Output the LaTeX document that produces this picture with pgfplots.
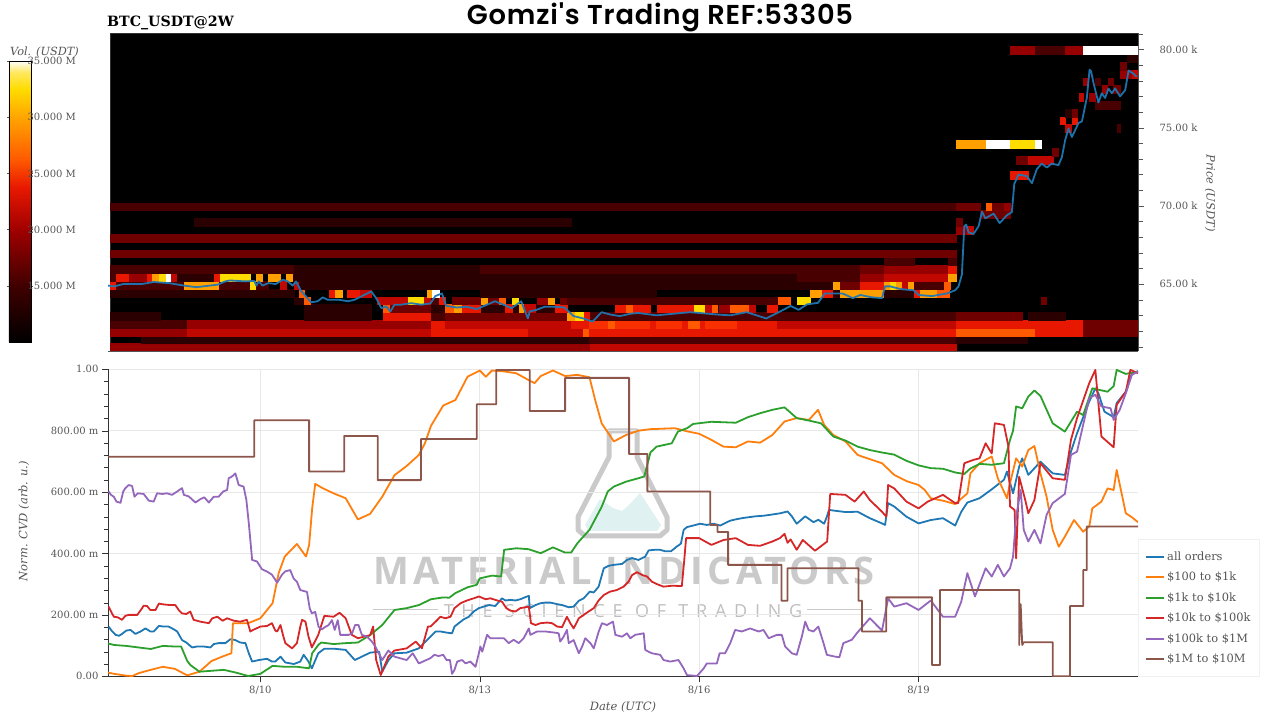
\documentclass[border=0pt]{standalone}
\usepackage{fontspec}
\usepackage{pgfplots}
\pgfplotsset{compat=1.18}
\setmainfont{DejaVu Serif}
\newfontfamily\titlefont{Poppins}[UprightFont=* SemiBold,LetterSpace=3]
\newfontfamily\wmA{Open Sans}[UprightFont=* Bold,LetterSpace=11.5]
\newfontfamily\wmB{Open Sans}[LetterSpace=43]
\definecolor{h1}{HTML}{2A0000}\definecolor{h2}{HTML}{480000}\definecolor{h3}{HTML}{6E0000}
\definecolor{h4}{HTML}{960000}\definecolor{h5}{HTML}{C00800}\definecolor{h6}{HTML}{E81800}
\definecolor{h7}{HTML}{FF5A00}\definecolor{h8}{HTML}{FFA000}\definecolor{h9}{HTML}{FFDC00}
\definecolor{hr}{HTML}{F83000}
\colorlet{hw}{white}
\definecolor{cA}{HTML}{1F77B4}\definecolor{cB}{HTML}{FF7F0E}\definecolor{cC}{HTML}{2CA02C}
\definecolor{cD}{HTML}{D62728}\definecolor{cE}{HTML}{9467BD}\definecolor{cF}{HTML}{8C564B}
\definecolor{txt}{HTML}{555555}
\definecolor{wm}{HTML}{CACACA}
\definecolor{wmd}{HTML}{BEBEBE}
\definecolor{wmt}{HTML}{DFF1F0}
\definecolor{b1}{HTML}{400000}\definecolor{b2}{HTML}{A00000}\definecolor{b3}{HTML}{FFA500}\definecolor{b4}{HTML}{FFE860}
\pgfdeclareverticalshading{hotbar}{100bp}{color(0bp)=(black);color(25bp)=(black);color(35bp)=(b1);color(45bp)=(b2);color(52.5bp)=(h6);color(57.5bp)=(h7);color(65bp)=(b3);color(70bp)=(h9);color(73bp)=(b4);color(75bp)=(white);color(100bp)=(white)}
% heat cell: from hour, to hour, price bin (61.2 + 0.5 r USDk), colour
\newcommand{\hc}[4]{\pgfmathsetmacro\lo{61.2+0.5*#3}\pgfmathsetmacro\hi{61.7+0.5*#3}%
\edef\tmp{\noexpand\addplot[draw=#4,line width=0.1pt,fill=#4,forget plot] coordinates {(#1,\lo)(#2,\lo)(#2,\hi)(#1,\hi)} -- cycle;}\tmp}
\pgfplotsset{cvd/.style={#1,line width=1.8pt,line join=round}}
\begin{document}
\begin{tikzpicture}[font=\fontsize{10}{12}\selectfont]
\useasboundingbox (0,0) rectangle (1280pt,720pt);
% ---- watermark, below the curves
\begin{scope}[x=1pt,y=-1pt,shift={(0pt,720pt)}]
\fill[wmt] (585,525)--(600,499)--(613,508)--(622,511)--(630,504)--(640,493)--(661,525)--(657,531)--(588,531)--cycle;
\draw[wm,line width=5pt,line join=round] (609,431)--(637,431)--(637,457)--(667,517)--(667,530)--(660,536)--(585,536)--(578,530)--(578,517)--(609,457)--cycle;
\node[anchor=center,text=wm,inner sep=0pt] at (624,571) {\fontsize{38}{40}\wmA MATERIAL INDICATORS};
\node[anchor=center,text=wmd,inner sep=0pt] at (623,611) {\fontsize{18}{20}\wmB THE SCIENCE OF TRADING};
\draw[wm,line width=1pt] (373,610)--(438,610) (807,610)--(872,610);
\end{scope}
% ---- heat map
\begin{axis}[at={(108pt,369pt)},anchor=south west,scale only axis,width=1030pt,height=318pt,
 xmin=-2,xmax=336,ymin=60.72,ymax=81.05,
 axis x line*=bottom,axis y line*=right,xtick=\empty,
 axis line style={draw=txt,-},
 ytick={65,70,75,80},yticklabels={65.00 k,70.00 k,75.00 k,80.00 k},
 minor ytick={61,62,63,64,66,67,68,69,71,72,73,74,76,77,78,79,81},
 tick style={draw=txt},major tick length=6pt,minor tick length=5pt,
 tick align=outside,
 yticklabel style={text=txt,font=\fontsize{10}{12}\selectfont,anchor=west,xshift=12pt}]
\addplot[draw=black!80,fill=black,forget plot] coordinates {(-1.2,60.72)(336,60.72)(336,81.05)(-1.2,81.05)} -- cycle;
% rows
\hc{-1.2}{156.3}{-1}{h4}\hc{156.3}{276.2}{-1}{h5}
\hc{8.7}{156}{0}{h1}\hc{156}{276.2}{0}{h2}\hc{276.2}{299.5}{0}{h1}
\hc{-1.2}{24}{1}{h4}\hc{24}{104}{1}{h5}\hc{104}{136}{1}{h6}\hc{136}{154}{1}{h5}\hc{154}{156}{1}{h7}\hc{156}{276.2}{1}{h6}\hc{276.2}{302.3}{1}{h7}\hc{302.3}{317.9}{1}{h6}\hc{317.9}{336}{1}{h3}
\hc{-1.2}{24}{2}{h2}\hc{24}{104}{2}{h4}\hc{104}{108.7}{2}{h6}\hc{108.7}{150}{2}{h5}\hc{150}{156}{2}{h6}\hc{156}{162}{2}{hr}\hc{162}{164.5}{2}{h7}\hc{164.5}{176}{2}{hr}\hc{176}{178}{2}{h6}\hc{178}{186.3}{2}{hr}\hc{186.3}{188.5}{2}{h6}\hc{188.5}{192.3}{2}{h7}\hc{192.3}{194}{2}{h6}\hc{194}{204.4}{2}{hr}\hc{204.4}{217.5}{2}{h6}\hc{217.5}{276.2}{2}{h5}\hc{276.2}{317.9}{2}{h6}\hc{317.9}{336}{2}{h3}
\hc{-1.2}{15}{3}{h1}\hc{62.2}{84.4}{3}{h1}\hc{88.4}{104}{3}{h6}\hc{104}{108.7}{3}{h2}\hc{108.7}{148.5}{3}{h3}\hc{148.5}{151.4}{3}{h8}\hc{151.4}{154.3}{3}{h9}\hc{154.3}{156.3}{3}{h6}\hc{156.3}{276.2}{3}{h2}\hc{276.2}{298}{3}{h3}\hc{300}{312}{3}{h1}
\hc{62.2}{84.4}{4}{h1}\hc{88.4}{90.6}{4}{h7}\hc{90.6}{104}{4}{h3}\hc{104}{148}{4}{h1}\hc{108.7}{111.5}{4}{h7}\hc{111.5}{114.2}{4}{h8}\hc{114.2}{120.2}{4}{h6}\hc{128.4}{130.6}{4}{h6}\hc{132.8}{134.4}{4}{h8}\hc{134.4}{138.3}{4}{h5}\hc{144.8}{148.6}{4}{h6}\hc{164.5}{176}{4}{h6}\hc{168}{170}{4}{h7}\hc{178.1}{190.2}{4}{h6}\hc{190.2}{194}{4}{h9}\hc{194}{196.2}{4}{h5}\hc{196.2}{197.8}{4}{h7}\hc{198.4}{202.2}{4}{h4}\hc{202.2}{208.2}{4}{h7}\hc{208.2}{210.4}{4}{h5}\hc{214.2}{217.5}{4}{h6}
\hc{58.9}{62.2}{5}{h1}\hc{62.2}{64.4}{5}{h7}\hc{86.3}{96.6}{5}{h5}\hc{96.6}{101.6}{5}{h9}\hc{101.6}{104}{5}{h5}\hc{104}{106.6}{5}{h2}\hc{106.6}{108.7}{5}{h6}\hc{111}{120}{5}{h3}\hc{120.4}{122.6}{5}{h8}\hc{122.6}{126.2}{5}{h3}\hc{126.2}{128.4}{5}{h7}\hc{130.6}{132.5}{5}{h9}\hc{138.8}{142.1}{5}{h4}\hc{142.3}{144.3}{5}{h8}\hc{146.4}{148.6}{5}{h3}\hc{148.6}{218}{5}{h2}\hc{218}{221.9}{5}{h7}\hc{224}{228.4}{5}{h9}\hc{304.2}{305.9}{5}{h3}
\hc{-1.2}{58.9}{6}{h1}\hc{60.6}{62.2}{6}{h7}\hc{70.4}{72.6}{6}{h6}\hc{72.6}{74.8}{6}{h8}\hc{76.4}{80.8}{6}{h6}\hc{80.8}{84.4}{6}{h5}\hc{102.6}{104.4}{6}{h8}\hc{104.4}{106.6}{6}{hw}\hc{120}{178}{6}{h1}\hc{228.4}{232.2}{6}{h8}\hc{232.2}{236}{6}{h6}\hc{236}{238.3}{6}{h1}\hc{238.3}{244.9}{6}{h8}\hc{244.9}{252.5}{6}{h8}\hc{252.5}{262.4}{6}{h1}\hc{262.4}{264.4}{6}{h6}\hc{264.4}{270}{6}{h8}\hc{270}{274}{6}{h7}
\hc{-1.2}{0.7}{7}{h6}\hc{0.7}{22.9}{7}{h2}\hc{22.9}{34.3}{7}{h8}\hc{34.3}{44.7}{7}{h2}\hc{44.7}{46.7}{7}{h9}\hc{46.7}{50.4}{7}{h2}\hc{54.6}{56.5}{7}{h5}\hc{58.9}{60.6}{7}{h5}\hc{60.6}{236}{7}{h1}\hc{236}{238.3}{7}{h8}\hc{238.3}{244.9}{7}{h3}\hc{244.9}{252.5}{7}{h6}\hc{252.5}{254.5}{7}{h8}\hc{254.5}{256.5}{7}{h9}\hc{256.5}{258.5}{7}{h8}\hc{258.5}{260.4}{7}{h5}\hc{260.4}{262.4}{7}{h8}\hc{262.4}{272.2}{7}{h2}\hc{272.2}{274.4}{7}{h7}
\hc{-1.2}{0.7}{8}{h2}\hc{0.7}{4.8}{8}{h6}\hc{4.8}{10.8}{8}{h4}\hc{10.8}{12.6}{8}{h6}\hc{12.6}{14.8}{8}{h8}\hc{14.8}{16.9}{8}{h9}\hc{16.9}{18.7}{8}{hw}\hc{18.7}{20.7}{8}{h5}\hc{20.7}{32.7}{8}{h1}\hc{32.7}{34.9}{8}{h6}\hc{34.9}{44.7}{8}{h9}\hc{46.7}{48.7}{8}{h8}\hc{50.4}{54.6}{8}{h8}\hc{56.5}{58.6}{8}{h8}\hc{58.6}{224}{8}{h1}\hc{224}{244.9}{8}{h2}\hc{244.9}{252.5}{8}{h4}\hc{252.5}{273.8}{8}{h5}\hc{273.8}{276.2}{8}{h8}
\hc{-1.2}{58.9}{9}{h2}\hc{58.9}{120}{9}{h1}\hc{120}{244.9}{9}{h2}\hc{244.9}{252.5}{9}{h3}\hc{252.5}{273.8}{9}{h4}\hc{273.8}{276.2}{9}{h6}
\hc{252.5}{262.4}{10}{h2}\hc{273.8}{276.2}{10}{h2}
\hc{-1.2}{276.2}{11}{h3}
\hc{-1.2}{276.2}{13}{h3}
\hc{276.2}{279.8}{14}{h4}\hc{279.8}{282}{14}{h5}
\hc{26.3}{150}{15}{h1}\hc{276.2}{278.2}{15}{h3}
\hc{284.2}{294.1}{16}{h3}
\hc{-1.2}{276.2}{17}{h2}\hc{276.2}{284.2}{17}{h3}\hc{286.2}{288}{17}{h7}\hc{288}{291.9}{17}{h3}\hc{291.9}{294.1}{17}{h4}
\hc{294.1}{300}{21}{h6}
\hc{296}{300}{23}{h3}\hc{300}{308}{23}{h5}
\hc{307.7}{309.9}{24}{h3}
\hc{276.2}{286.2}{25}{h8}\hc{286.2}{294.1}{25}{hw}\hc{294.1}{302.3}{25}{h9}\hc{302.3}{304.2}{25}{hw}
\hc{312.1}{313.9}{27}{h5}\hc{329}{330}{27}{h2}
\hc{310.4}{312.1}{28}{h6}\hc{314.3}{315.9}{28}{h6}
\hc{312.1}{314.3}{29}{h1}\hc{314.3}{315.9}{29}{h3}
\hc{321.9}{330}{30}{h2}
\hc{316.5}{317.9}{31}{h5}\hc{320}{321.9}{31}{h4}
\hc{324.1}{325.7}{32}{h4}\hc{327.9}{330}{32}{h3}
\hc{318.1}{319.7}{33}{h4}\hc{321.9}{323.6}{33}{h2}\hc{326.3}{327.9}{33}{h3}
\hc{330.1}{334}{34}{h4}\hc{334}{335.6}{34}{h5}
\hc{330.1}{332.1}{35}{h3}
\hc{332.3}{335.6}{36}{h1}
\hc{294.1}{302.3}{37}{h4}\hc{302.3}{312.1}{37}{h2}\hc{312.1}{317.9}{37}{h4}\hc{317.9}{336}{37}{hw}
% price
\addplot[cA,line width=1.8pt,line join=round,forget plot,opacity=0.95] coordinates {
(-2,64.9)(0,64.85)(3,65)(9,65)(13,65.13)(18,65.06)(23,64.9)(27,64.8)(34,64.96)(36.5,65.17)(38,65.23)(43,65.17)(46,65.2)(46.7,64.9)(47.5,65.17)(48.7,64.9)(50.6,65.06)(53,65)(55.4,65.28)(57,65.17)(58.6,64.9)(59.7,65.17)(61.4,64.55)(63,64.2)(64.7,63.83)(66.8,63.9)(68.5,64.15)(70,64)(73.5,64)(76.8,63.9)(79,64)(81.7,64.27)(84.4,64.53)(86,64.1)(87.7,63.46)(89.3,63.57)(90.7,63.25)(92,63.68)(94.2,63.68)(97.5,63.78)(100.8,63.68)(103.8,63.76)(105.4,64.23)(107.6,64.4)(109,63.6)(112.4,63.5)(115.7,63.55)(119,63.4)(125,63.9)(128.8,63.6)(130.4,63.45)(133.6,63.9)(135.8,62.8)(136.4,63.25)(138.6,63.35)(141.3,63.55)(144.6,63.55)(147.8,63.5)(150.8,62.95)(154,62.8)(157,62.6)(160,63.2)(162.8,63.05)(166,62.95)(169.4,63.1)(172,63.15)(178,63)(189,63.2)(198,63.05)(202.2,63)(207.6,63.2)(214,62.8)(218.6,63.25)(222,63.6)(224.6,63.35)(227.4,63.7)(231,63.8)(233.2,64.4)(239,64.4)(242.4,64.1)(244.9,64.3)(248.7,64.15)(252,64.1)(253,64.85)(254.7,64.85)(258,64.68)(262.4,64.6)(264,64.3)(268.4,64.23)(273.3,64.4)(276,64.6)(277.1,64.85)(278.2,65.6)(279,68.7)(279.6,68.8)(280.4,68.3)(282,68.2)(283.7,68.7)(284.8,69.63)(285.9,69.2)(288.6,69.5)(290.6,68.9)(293,69.4)(294.6,69.6)(295.4,71.4)(296.8,72)(299.5,71.9)(301.2,71.45)(302.8,72.35)(304.4,72.7)(306.1,72.45)(307.7,72.7)(309.9,72.6)(311,73.1)(312.1,74.2)(313.2,74.95)(314.3,74.4)(316.5,75.3)(317.6,75.4)(319.2,76.9)(320.1,78.7)(320.6,78.6)(321.4,77.85)(323,76.6)(324.1,77.2)(325.2,76.9)(326.3,77.5)(327.4,77.2)(328.5,77.5)(330.1,77)(331.8,77.4)(332.9,78.65)(334.5,78.45)(335.6,78.25)};
\end{axis}
% ---- colour bar
\begin{axis}[at={(9pt,378pt)},anchor=south west,scale only axis,width=22pt,height=281pt,
 xmin=0,xmax=1,ymin=10,ymax=35,xtick=\empty,
 axis background/.style={shading=hotbar},
 axis line style={draw=black,line width=0.6pt},
 ytick={15,20,25,30,35},yticklabels={15.000 M,20.000 M,25.000 M,30.000 M,35.000 M},
 yticklabel pos=right,tick style={draw=txt},major tick length=2pt,
 tick align=outside,
 yticklabel style={text=txt,font=\fontsize{10}{12}\selectfont,anchor=west,xshift=-9pt}]
\end{axis}
% ---- CVD
\begin{axis}[at={(108pt,43.7pt)},anchor=south west,scale only axis,width=1030pt,height=307pt,
 xmin=-2,xmax=336,ymin=0,ymax=1000,clip=true,
 axis x line*=bottom,axis y line*=left,axis line style={draw=black!80,-},
 xtick={48,120,192,264},xticklabels={8/10,8/13,8/16,8/19},
 ytick={0,200,400,600,800,1000},yticklabels={0.00,200.00 m,400.00 m,600.00 m,800.00 m,1.00},
 minor y tick num=4,tick align=outside,
 major tick length=6pt,minor tick length=4pt,tick style={draw=black!80},
 grid=major,major grid style={draw=black!9,line width=1pt},
 xticklabel style={text=txt,font=\fontsize{10}{12}\selectfont},
 yticklabel style={text=txt,font=\fontsize{10}{12}\selectfont},
 legend cell align=left,
 legend image code/.code={\draw[#1,line width=2pt] (0pt,0pt)--(18pt,0pt);},
 legend style={at={(1,0)},anchor=south west,xshift=0pt,draw=black!6,fill=white,
  font=\fontsize{11.4}{13}\selectfont,text=txt,row sep=6.3pt,inner xsep=7pt,inner ysep=10pt,
  /tikz/every even column/.append style={column sep=9pt}}]
\addplot[cvd=cA] coordinates {(-1.8,162)(-0.6,146)(0.5,135)(1.6,132)(2.6,138)(4,149)(5.4,151)(7,138)(8.7,146)(10.3,156)(11.9,146)(13,146)(14.7,164)(16.3,162)(17.9,162)(19.6,153)(20.7,146)(22.3,118)(23.7,110)(25.6,94)(27.2,97)(29.4,97)(31.6,94)(32.7,105)(34.3,108)(36.5,108)(38.2,121)(39.8,118)(41.4,110)(43.1,108)(44.2,75)(45.3,48)(47.5,53)(50.2,57)(51.8,48)(52.9,48)(54.6,64)(56.2,45)(59,40)(61.1,48)(62.2,70)(63.8,48)(64.9,26)(67,75)(69,90)(72,90)(76,86)(79,53)(84,77)(87,80)(88,15)(90,52)(92,75)(96,77)(100,91)(103.8,129)(105.5,146)(107.1,146)(109.3,142)(110.9,140)(111.7,162)(113.1,173)(114.8,186)(116.4,194)(118,211)(119.7,222)(121.3,227)(123,232)(125.1,229)(127.3,254)(128.4,247)(130.1,249)(131.7,247)(133.3,251)(135,258)(136.1,262)(136.4,222)(138.3,232)(139.9,238)(141.5,240)(143.2,240)(145.4,235)(147,232)(149.2,225)(150.8,227)(152.5,246)(154.1,254)(156.1,276)(157.4,273)(159,292)(160.7,352)(162.3,360)(164,363)(166.7,366)(168.3,379)(170,385)(172.1,379)(174.3,390)(175.4,410)(177.3,412)(179.2,412)(180.9,407)(182.7,407)(184.7,423)(186,432)(186.9,477)(188,486)(189.6,490)(192.3,497)(194.5,493)(196.7,497)(198.9,491)(200.5,499)(202.2,507)(204.4,512)(206.6,516)(210.4,521)(213.1,523)(215.3,526)(218.6,531)(221,537)(222.4,521)(224,497)(226.8,521)(229.5,502)(231.1,510)(233,497)(233.9,520)(234.6,542)(236,540)(240,535)(244,536)(248,515)(252,498)(253,493)(254,564)(256,553)(260,520)(264,498)(268,509)(272,515)(276,491)(278,536)(280,566)(284,580)(288,609)(292,640)(293,667)(295,596)(297,683)(298,710)(300,656)(304,699)(308,661)(312,656)(314,732)(316,792)(320,895)(322,938)(323,922)(325,862)(328,844)(329,890)(332,927)(334,987)(336,993)};
\addlegendentry{all orders}
\addplot[cvd=cB] coordinates {(-2,12)(0,8)(4,2)(6,1)(8,10)(12,21)(16,31)(20,24)(24,3)(28,15)(32,50)(36,66)(38.5,75)(39,173)(44,173)(48,189)(52,238)(54,336)(56,390)(60,431)(63,390)(64,428)(65,547)(66,627)(68,615)(72,596)(76,580)(80,511)(84,529)(88,585)(92,655)(96,685)(100,721)(102,759)(104,816)(108,882)(112,900)(116,976)(120,996)(122,976)(124,996)(128,993)(132,987)(136,965)(138,955)(140,978)(144,996)(148,978)(152,982)(156,974)(158,895)(160,824)(164,765)(168,786)(172,800)(176,805)(184,808)(188,798)(192,790)(196,770)(200,748)(204,746)(208,765)(212,761)(216,786)(220,830)(224,841)(228,835)(231,868)(233,819)(236,786)(240,765)(244,721)(246,714)(252,694)(256,656)(260,636)(264,623)(266,607)(268,580)(272,572)(276,561)(280,596)(281,661)(284,694)(288,716)(290,645)(293,580)(294,629)(296,710)(298,683)(300,737)(302,750)(304,661)(306,585)(308,477)(310,422)(312,455)(315,509)(318,471)(320,488)(321,547)(324,569)(326,612)(328,607)(329,672)(332,531)(334,518)(336,502)};
\addlegendentry{\$100 to \$1k}
\addplot[cvd=cC] coordinates {(-2,107)(0,102)(4,99)(8,94)(12,89)(16,99)(20,97)(22,97)(24,50)(25,37)(28,15)(32,18)(36,21)(40,12)(44,1)(48,8)(52,34)(56,31)(60,31)(64,26)(65,75)(67,102)(68,110)(72,105)(76,108)(80,110)(84,134)(88,167)(92,216)(96,222)(100,232)(104,251)(108,257)(110,256)(112,271)(116,290)(119,298)(120,319)(124,328)(127,325)(128,412)(132,417)(136,414)(140,401)(144,420)(148,403)(150,403)(152,433)(156,477)(160,552)(162,602)(164,618)(168,634)(172,645)(174,651)(176,729)(178,748)(183,759)(185,797)(188,808)(190,822)(196,829)(204,826)(208,844)(212,857)(216,868)(220,876)(224,841)(228,833)(232,824)(236,781)(240,768)(244,748)(248,737)(252,729)(256,722)(260,702)(264,687)(268,678)(272,676)(276,664)(279,659)(281,677)(284,692)(288,689)(292,694)(294,770)(295,800)(296,879)(298,873)(300,911)(302,931)(304,913)(308,824)(312,797)(316,862)(318,851)(321,938)(326,927)(328,945)(329,998)(332,985)(336,993)};
\addlegendentry{\$1k to \$10k}
\addplot[cvd=cD] coordinates {(-1.8,227)(-1,211)(-0.1,194)(1.2,192)(2.6,184)(3.7,197)(4.8,200)(7.6,200)(9.2,222)(9.7,230)(10.8,229)(11.9,216)(13.6,216)(14.7,237)(16.3,234)(18.5,232)(20.1,232)(21.2,216)(22.3,205)(23.7,203)(25,211)(26.1,184)(28.3,178)(31.1,173)(32.2,189)(33.9,194)(35.6,181)(37.1,189)(39.3,181)(41.4,178)(43.6,184)(44.7,146)(45.6,151)(48,162)(50.2,164)(51.8,173)(52.9,149)(53.5,146)(54.6,167)(55.4,135)(56.2,108)(58.4,91)(60,108)(61.1,162)(61.7,184)(62.8,178)(63.8,129)(64.9,94)(67,135)(69,197)(72,194)(74,207)(76,189)(78,135)(80,124)(84,134)(85,162)(86,53)(87.5,4)(90,64)(92,84)(96,91)(99,113)(101,91)(103,162)(103.8,162)(105.5,178)(107.1,194)(108.7,189)(110.4,194)(111.7,222)(113.7,238)(115.8,247)(118,254)(119.7,260)(121.9,251)(123.5,254)(125.7,247)(127.3,243)(128.7,222)(130.1,214)(131.7,211)(133.3,222)(135,225)(136.1,227)(136.8,173)(138.3,167)(139.9,173)(142.1,175)(143.7,173)(145.4,162)(147,160)(148.6,194)(149.7,173)(150.8,156)(152.5,189)(154.1,200)(155.7,211)(157.4,222)(159,247)(160.7,265)(162.8,276)(165,281)(167.2,292)(168.8,308)(170,330)(171.6,339)(173.3,330)(174.9,325)(176.5,308)(178.2,300)(180.3,292)(183.1,295)(186.3,294)(187.1,378)(187.7,450)(192,450)(196,428)(200,444)(204,450)(208,428)(212,425)(216,439)(218.5,450)(220,464)(221,435)(222,446)(224,412)(226,444)(230,409)(234,439)(235,594)(240,591)(243,569)(246,602)(248,574)(252,536)(253.4,520)(254,623)(256,612)(260,569)(264,547)(267,569)(272,591)(276,564)(277,564)(279,694)(282,705)(284,710)(286,759)(288,726)(289,824)(292,819)(293.5,748)(294,553)(295.5,542)(296,384)(297,650)(299,574)(300,531)(302,574)(304,694)(308,645)(312,640)(314,770)(316,841)(320,955)(322,998)(324,781)(328,746)(329,884)(332,927)(333.5,998)(336,987)};
\addlegendentry{\$10k to \$100k}
\addplot[cvd=cE] coordinates {(-1.8,602)(-1,591)(-0.1,585)(0.8,569)(2.1,565)(3,602)(3.7,613)(4.8,623)(5.9,620)(6.7,585)(7.8,596)(9.7,594)(11.4,572)(13,569)(14.1,596)(15.8,594)(17.4,596)(19,591)(20.7,602)(22.3,613)(22.9,591)(24.5,586)(26.7,566)(28.3,577)(29.6,583)(31.1,566)(32.7,585)(34.3,585)(35.8,602)(37.1,607)(37.6,645)(38.7,651)(39.8,661)(40.9,623)(42.5,618)(43.4,575)(44.2,499)(45.3,379)(46.9,374)(48.5,349)(50.2,341)(51.8,331)(53.5,305)(55.1,331)(56.2,342)(57.8,346)(58.9,319)(60,308)(61.1,281)(63.3,275)(64.2,221)(64.9,205)(66,210)(67.1,161)(68.2,153)(69.3,161)(70.4,167)(71.5,183)(72.4,151)(73.4,183)(74.2,135)(75.9,135)(77,135)(78.1,140)(79.1,167)(80.2,167)(81.3,135)(83,129)(84.6,113)(85.7,97)(88,53)(90,84)(92,64)(96,53)(98,75)(100,42)(103.8,59)(105.1,70)(106.5,66)(108,70)(109.1,53)(110.2,53)(110.9,8)(111.7,21)(112.6,48)(114.2,53)(115.3,42)(116.9,48)(118.6,31)(119.7,75)(120.2,97)(120.8,80)(122.4,135)(123.5,124)(125.7,124)(127.9,124)(129.5,108)(131.1,119)(132.8,108)(134.4,124)(136.1,156)(136.6,135)(138.8,146)(141.5,146)(144.8,142)(145.9,140)(146.4,113)(147.5,129)(148.6,151)(149.2,108)(150.8,118)(152.5,75)(153.6,97)(154.6,124)(156.3,108)(157.4,91)(159,145)(160.1,173)(161.7,167)(163.7,178)(164.5,135)(166.7,129)(168.3,140)(169.4,124)(171,135)(173.8,140)(174.3,86)(175.4,80)(176.5,75)(179.2,70)(180.3,53)(182.5,48)(185.2,53)(186.9,26)(188,4)(191.3,1)(193.5,26)(194.5,42)(197.8,42)(198.7,75)(200.5,75)(202.2,108)(203.8,151)(206,146)(208.7,156)(211.5,146)(213.1,151)(214.8,124)(217.5,135)(219.1,135)(220.2,97)(222.4,75)(224,70)(225.7,130)(226.8,178)(227.9,151)(229.5,146)(231.1,162)(232.8,108)(233.9,70)(236.6,64)(238,62)(239.3,108)(242.1,119)(243.7,140)(248,189)(252,149)(254,254)(256,227)(260,238)(264,216)(268,247)(272,194)(276,194)(278,243)(280,336)(282.5,260)(286,352)(288,325)(290,363)(292,325)(294,352)(295,390)(296,520)(297.5,607)(298.5,477)(300,439)(302,477)(304,433)(306,526)(308,564)(312,594)(314,721)(316,732)(318,819)(320,906)(322,917)(324,879)(327,873)(328,835)(330,868)(332,922)(334,982)(336,993)};
\addlegendentry{\$100k to \$1M}
\addplot[cvd=cF] coordinates {(-2,715)(46,715)(46,834)(64,834)(64,667)(75.5,667)(75.5,783)(86.5,783)(86.5,639)(100.7,639)(100.7,773)(119,773)(119,886)(125.4,886)(125.4,998)(136.4,998)(136.4,864)(148,864)(148,972)(169,972)(169,724)(175,724)(175,602)(195.6,602)(195.6,493)(198,493)(198,470)(201.5,470)(201.5,363)(219,363)(219,246)(221,246)(221,352)(244.3,352)(244.3,246)(245.4,246)(245.4,146)(253.4,146)(253.4,257)(268.4,257)(268.4,37)(271,37)(271,281)(297,281)(297,102)(297.5,235)(298,102)(298.5,111)(308,111)(308,0)(313.7,0)(313.7,229)(318,229)(318,346)(319.2,346)(319.2,488)(336,488)};
\addlegendentry{\$1M to \$10M}
\end{axis}
% ---- texts
\begin{scope}[x=1pt,y=-1pt,shift={(0pt,720pt)}]
\node[anchor=west,inner sep=0pt,font=\fontsize{14.2}{16}\bfseries] at (107,23) {BTC\_USDT@2W};
\node[anchor=center,inner sep=0pt] at (660,17) {\fontsize{27.3}{30}\titlefont Gomzi's Trading REF:53305};
\node[anchor=west,inner sep=0pt,text=txt,font=\fontsize{11.3}{13}\itshape] at (10,52) {Vol. (USDT)};
\node[rotate=90,inner sep=0pt,text=txt,font=\fontsize{11.5}{13}\itshape] at (24,521) {Norm. CVD (arb. u.)};
\node[rotate=-90,inner sep=0pt,text=txt,font=\fontsize{11.5}{13}\itshape] at (1210,193) {Price (USDT)};
\node[inner sep=0pt,text=txt,font=\fontsize{11.5}{13}\itshape] at (623,707) {Date (UTC)};
\end{scope}
\end{tikzpicture}
\end{document}
